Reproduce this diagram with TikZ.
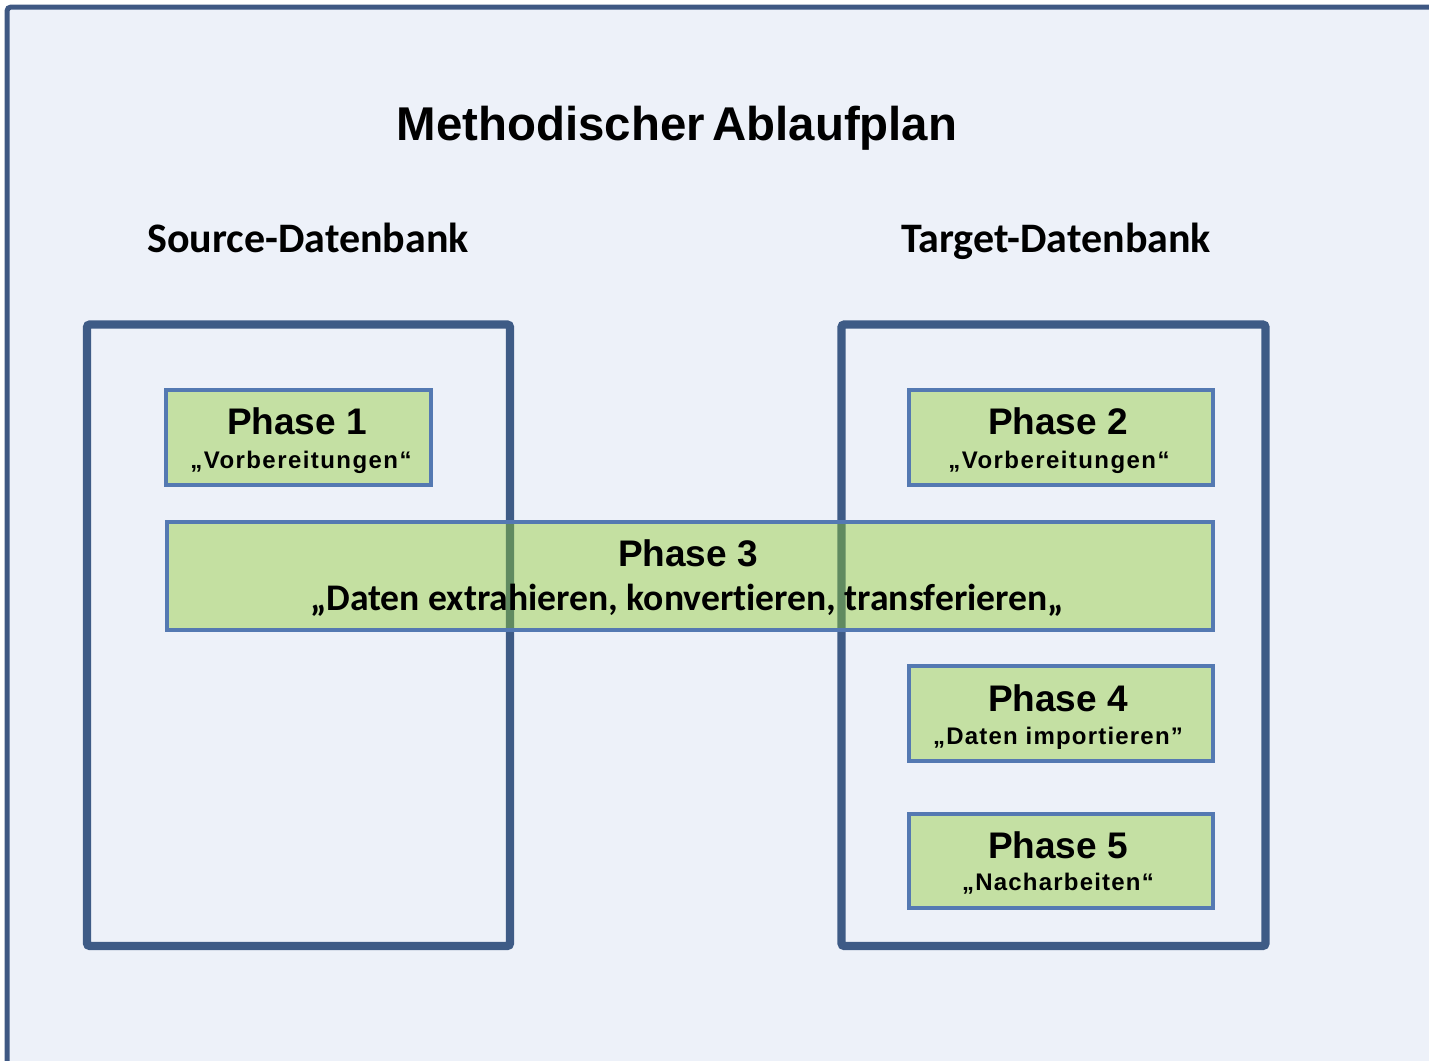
\documentclass[tikz,border=0pt]{standalone}
\usepackage{fontspec}
\setmainfont{Liberation Sans}
\newfontfamily\arialb{Liberation Sans}[BoldFont={* Bold}]
\newfontfamily\calb{Carlito}[RawFeature={-liga}]
\begin{document}
\begin{tikzpicture}[x=0.5pt,y=-0.5pt,
  framebox/.style={draw=frameC, line width=4.2pt, rounded corners=1.5pt, inner sep=0pt, outer sep=0pt},
  phasebox/.style={draw=phaseC, line width=2pt, fill=phaseF, inner sep=0pt, outer sep=0pt},
  phasetitle/.style={anchor=base, inner sep=0pt, font=\arialb\bfseries\fontsize{18.5pt}{20pt}\selectfont},
  phasesub/.style={anchor=base, inner sep=0pt, font=\arialb\bfseries\fontsize{12pt}{14pt}\selectfont\addfontfeature{LetterSpace=5}},
  heading/.style={anchor=base, inner sep=0pt, font=\calb\bfseries\fontsize{21pt}{24pt}\selectfont}
]
\definecolor{bgC}{HTML}{EDF1F9}
\definecolor{frameC}{HTML}{3E5B86}
\definecolor{outerC}{HTML}{3F5883}
\definecolor{phaseC}{HTML}{5479B2}
\definecolor{phaseF}{HTML}{C4E0A3}
\definecolor{phaseT}{HTML}{8ECA2F}
\useasboundingbox (0,0) rectangle (1429,1060);
\fill[white] (0,0) rectangle (1429,1060);
\fill[bgC] (7,7) rectangle (1460,1090);
\draw[outerC, line width=2.5pt, rounded corners=2pt] (7,7) rectangle (1460,1090);

\node[anchor=base, inner sep=0pt, font=\arialb\bfseries\fontsize{23.7pt}{26pt}\selectfont] (title) at (677,140) {Methodischer\hspace{-0.12em} Ablaufplan};
\node[heading] (srch) at (308,252) {Source-Datenbank};
\node[heading] (tgth) at (1056,252) {Target-Datenbank};

\node[framebox, minimum width=211.5pt, minimum height=310.75pt] (src) at (298.5,635.25) {};
\node[framebox, minimum width=212pt, minimum height=310.75pt] (tgt) at (1053.5,635.25) {};

\node[phasebox, minimum width=132.5pt, minimum height=47.5pt] (p1) at (298.5,437.5) {};
\node[phasebox, minimum width=152pt, minimum height=47.5pt] (p2) at (1061,437.5) {};
\node[phasebox, fill=phaseT, fill opacity=0.43, minimum width=523pt, minimum height=54pt] (p3) at (690,576) {};
\node[phasebox, minimum width=152pt, minimum height=47.5pt] (p4) at (1061,713.5) {};
\node[phasebox, minimum width=152pt, minimum height=47pt] (p5) at (1061,861) {};

\node[phasetitle] (p1t) at (297,434) {Phase 1};
\node[phasesub, font=\arialb\bfseries\fontsize{12pt}{14pt}\selectfont\addfontfeature{LetterSpace=6}] (p1s) at (301,468) {„Vorbereitungen“};
\node[phasetitle] (p2t) at (1058,434) {Phase 2};
\node[phasesub, font=\arialb\bfseries\fontsize{12pt}{14pt}\selectfont\addfontfeature{LetterSpace=6}] (p2s) at (1059,468) {„Vorbereitungen“};
\node[phasetitle] (p3t) at (688,566) {Phase 3};
\node[anchor=base, inner sep=0pt, font=\calb\bfseries\fontsize{18.8pt}{20pt}\selectfont] (p3s) at (687,610) {„Daten extrahieren, konvertieren, transferieren„};
\node[phasetitle] (p4t) at (1058,711) {Phase 4};
\node[phasesub] (p4s) at (1058,744) {„Daten importieren”};
\node[phasetitle] (p5t) at (1058,858) {Phase 5};
\node[phasesub] (p5s) at (1058,890) {„Nacharbeiten“};
\end{tikzpicture}
\end{document}
